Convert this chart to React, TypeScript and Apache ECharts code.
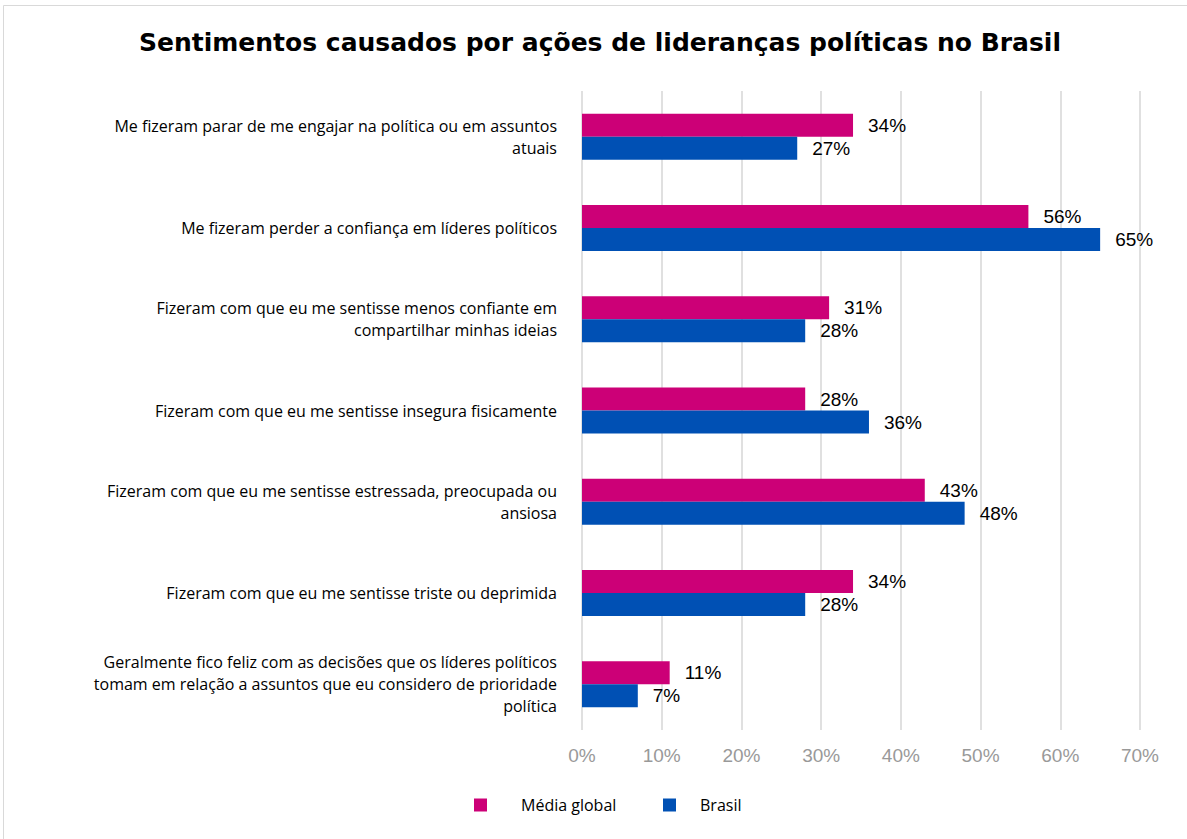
import React, { useEffect, useRef } from "react";
import * as echarts from "echarts";

const categories = [
  "Me fizeram parar de me engajar na política ou em assuntos\natuais",
  "Me fizeram perder a confiança em líderes políticos",
  "Fizeram com que eu me sentisse menos confiante em\ncompartilhar minhas ideias",
  "Fizeram com que eu me sentisse insegura fisicamente",
  "Fizeram com que eu me sentisse estressada, preocupada ou\nansiosa",
  "Fizeram com que eu me sentisse triste ou deprimida",
  "Geralmente fico feliz com as decisões que os líderes políticos\ntomam em relação a assuntos que eu considero de prioridade\npolítica",
];
const mediaGlobal = [34, 56, 31, 28, 43, 34, 11];
const brasil = [27, 65, 28, 36, 48, 28, 7];
const seriesNames = ["Média global", "Brasil"];
const title = "Sentimentos causados por ações de lideranças políticas no Brasil";

const PINK = "#CC0077";
const BLUE = "#0050B4";

export default function App() {
  const ref = useRef<HTMLDivElement>(null);
  useEffect(() => {
    if (!ref.current) return;
    const chart = echarts.init(ref.current, null, { renderer: "svg" });
    const label = {
      show: true,
      position: "right" as const,
      distance: 15,
      color: "#000",
      fontSize: 19,
      fontFamily: "Liberation Sans, Arial, sans-serif",
      formatter: (p: any) => p.value + "%",
    };
    const legendBase = {
      top: 792,
      itemWidth: 13,
      itemHeight: 13,
      icon: "rect",
    };
    chart.setOption({
      animation: false,
      backgroundColor: "#fff",
      title: {
        text: title,
        left: 595,
        textAlign: "center",
        top: 25,
        textStyle: {
          fontFamily: "DejaVu Sans, sans-serif",
          fontSize: 25,
          fontWeight: "bold",
          color: "#000",
        },
      },
      graphic: [
        {
          type: "rect",
          shape: { x: 3.5, y: 5.5, width: 1190, height: 840 },
          style: { fill: "none", stroke: "#d9d9d9", lineWidth: 1 },
          silent: true,
        },
      ],
      legend: [
        {
          ...legendBase,
          left: 469,
          textStyle: {
            fontFamily: "Open Sans, Noto Sans, sans-serif",
            fontSize: 16,
            color: "#000",
            padding: [0, 0, 0, 29],
          },
          data: [seriesNames[0]],
        },
        {
          ...legendBase,
          left: 658,
          textStyle: {
            fontFamily: "Open Sans, Noto Sans, sans-serif",
            fontSize: 16,
            color: "#000",
            padding: [0, 0, 0, 19],
          },
          data: [seriesNames[1]],
        },
      ],
      grid: { left: 582, right: 47, top: 91, bottom: 109, containLabel: false },
      xAxis: {
        type: "value",
        min: 0,
        max: 70,
        interval: 10,
        axisLabel: {
          formatter: "{value}%",
          color: "#999",
          fontSize: 19,
          fontFamily: "Liberation Sans, Arial, sans-serif",
          margin: 16,
        },
        axisLine: { show: false },
        axisTick: { show: false },
        splitLine: { lineStyle: { color: "#e0e0e0", width: 2 } },
      },
      yAxis: {
        type: "category",
        inverse: true,
        data: categories,
        axisLine: { show: false },
        axisTick: { show: false },
        axisLabel: {
          margin: 25,
          align: "right",
          color: "#000",
          fontSize: 16,
          lineHeight: 22,
          fontFamily: "Open Sans, Noto Sans, sans-serif",
        },
      },
      series: [
        {
          name: seriesNames[0],
          type: "bar",
          data: mediaGlobal,
          barWidth: 23,
          barGap: "0%",
          itemStyle: { color: PINK },
          label,
        },
        {
          name: seriesNames[1],
          type: "bar",
          data: brasil,
          barWidth: 23,
          barGap: "0%",
          itemStyle: { color: BLUE },
          label,
        },
      ],
    });
    return () => chart.dispose();
  }, []);
  return (
    <div
      ref={ref}
      style={{ position: "absolute", left: 0, top: 0, width: 1187, height: 839 }}
    />
  );
}
